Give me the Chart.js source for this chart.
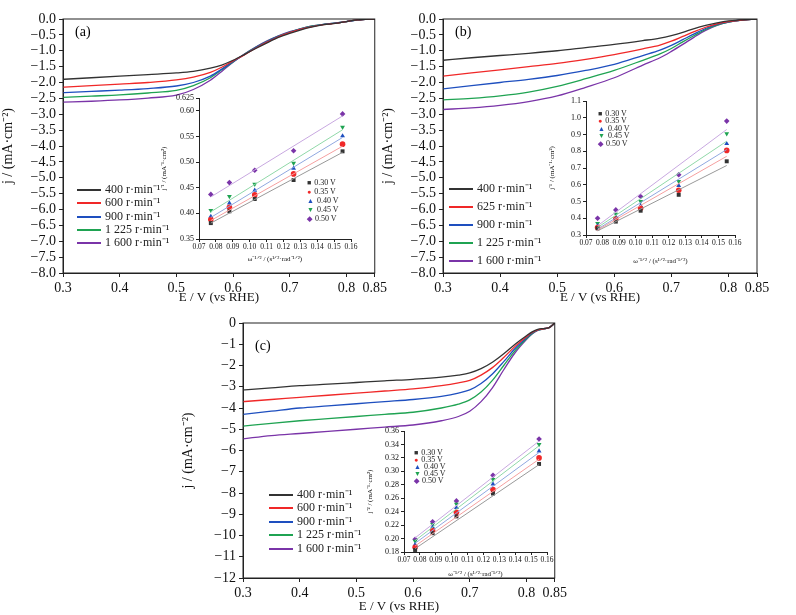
<!DOCTYPE html>
<html><head><meta charset="utf-8">
<script src="https://cdn.jsdelivr.net/npm/chart.js@4"></script>
<style>
body{margin:0;background:#fff;width:796px;height:615px;position:relative;overflow:hidden;font-family:"Liberation Serif",serif}
canvas{position:absolute}
.lg{position:absolute;font-size:12px;color:#222;white-space:nowrap;line-height:12px}
.ln{display:inline-block;width:24px;height:0;vertical-align:middle;margin-right:4px}
.sl{position:absolute;font-size:8px;color:#222;white-space:nowrap;line-height:8px}
.sl b{font-size:7px;margin-right:3px}
.pl{position:absolute;font-size:14px}
</style></head><body>
<canvas id="ca"></canvas><canvas id="cb"></canvas><canvas id="cc"></canvas>
<canvas id="ia"></canvas><canvas id="ib"></canvas><canvas id="ic"></canvas>
<div class="pl" style="left:75px;top:24px">(a)</div>
<div class="pl" style="left:455px;top:24px">(b)</div>
<div class="pl" style="left:255px;top:338px">(c)</div>
<script>
// LSV curves
const Ea = [0.3,0.35,0.4,0.45,0.5,0.53,0.56,0.58,0.6,0.62,0.64,0.66,0.68,0.7,0.72,0.74,0.76,0.78,0.8,0.82,0.84,0.85];
const a400 = [-1.9,-1.85,-1.8,-1.75,-1.7,-1.65,-1.55,-1.45,-1.3,-1.12,-0.93,-0.75,-0.58,-0.45,-0.34,-0.25,-0.18,-0.14,-0.08,-0.03,0,0];
const a600 = [-2.15,-2.1,-2.05,-2.0,-1.92,-1.83,-1.68,-1.52,-1.32,-1.13,-0.92,-0.73,-0.56,-0.43,-0.32,-0.24,-0.18,-0.14,-0.08,-0.03,0,0];
const a900 = [-2.32,-2.28,-2.24,-2.19,-2.11,-2.0,-1.8,-1.58,-1.34,-1.12,-0.9,-0.71,-0.55,-0.42,-0.31,-0.23,-0.17,-0.13,-0.08,-0.03,0,0];
const a1225 = [-2.47,-2.43,-2.39,-2.33,-2.25,-2.1,-1.85,-1.6,-1.35,-1.11,-0.89,-0.7,-0.54,-0.41,-0.3,-0.22,-0.17,-0.13,-0.08,-0.03,0,0];
const a1600 = [-2.62,-2.59,-2.55,-2.49,-2.4,-2.22,-1.93,-1.65,-1.36,-1.1,-0.88,-0.69,-0.53,-0.4,-0.3,-0.22,-0.17,-0.13,-0.08,-0.03,0,0];

const Eb = [0.3,0.35,0.4,0.45,0.5,0.55,0.6,0.65,0.68,0.7,0.72,0.74,0.76,0.78,0.8,0.82,0.85];
const b400 = [-1.3,-1.22,-1.15,-1.08,-1.0,-0.9,-0.8,-0.68,-0.6,-0.52,-0.42,-0.3,-0.2,-0.12,-0.06,-0.03,0];
const b625 = [-1.8,-1.7,-1.6,-1.5,-1.4,-1.27,-1.12,-0.94,-0.82,-0.7,-0.55,-0.4,-0.26,-0.15,-0.08,-0.04,0];
const b900 = [-2.2,-2.1,-2.0,-1.9,-1.78,-1.62,-1.43,-1.15,-0.98,-0.83,-0.65,-0.47,-0.3,-0.17,-0.09,-0.04,0];
const b1225 = [-2.55,-2.5,-2.42,-2.3,-2.12,-1.88,-1.62,-1.3,-1.1,-0.93,-0.72,-0.52,-0.33,-0.19,-0.1,-0.04,0];
const b1600 = [-2.85,-2.8,-2.72,-2.6,-2.42,-2.15,-1.85,-1.45,-1.22,-1.02,-0.8,-0.57,-0.36,-0.2,-0.1,-0.04,0];

const Ec = [0.3,0.35,0.4,0.45,0.5,0.55,0.6,0.65,0.68,0.7,0.72,0.74,0.76,0.78,0.8,0.81,0.82,0.83,0.84,0.85];
const c400 = [-3.15,-3.05,-2.95,-2.88,-2.8,-2.72,-2.65,-2.55,-2.45,-2.35,-2.15,-1.85,-1.45,-1.0,-0.6,-0.42,-0.3,-0.26,-0.22,0];
const c600 = [-3.7,-3.6,-3.5,-3.4,-3.3,-3.2,-3.1,-2.95,-2.82,-2.7,-2.45,-2.1,-1.62,-1.1,-0.65,-0.45,-0.32,-0.27,-0.22,0];
const c900 = [-4.3,-4.15,-4.0,-3.9,-3.8,-3.7,-3.6,-3.45,-3.3,-3.15,-2.85,-2.4,-1.82,-1.2,-0.7,-0.47,-0.33,-0.27,-0.22,0];
const c1225 = [-4.85,-4.72,-4.6,-4.5,-4.4,-4.3,-4.2,-4.0,-3.82,-3.62,-3.25,-2.7,-2.0,-1.3,-0.74,-0.5,-0.34,-0.28,-0.22,0];
const c1600 = [-5.45,-5.3,-5.2,-5.1,-5.0,-4.9,-4.8,-4.6,-4.4,-4.15,-3.7,-3.05,-2.2,-1.4,-0.78,-0.52,-0.35,-0.28,-0.22,0];

const labelsA = ['400 r·min⁻¹','600 r·min⁻¹','900 r·min⁻¹','1 225 r·min⁻¹','1 600 r·min⁻¹'];
const labelsB = ['400 r·min⁻¹','625 r·min⁻¹','900 r·min⁻¹','1 225 r·min⁻¹','1 600 r·min⁻¹'];
const xTicksMain = [0.3,0.4,0.5,0.6,0.7,0.8,0.85];

// Koutecky-Levich insets
const w = [0.077,0.088,0.103,0.126,0.155];
const fitX = [0.077,0.155];
const potentials = ['0.30 V','0.35 V','0.40 V','0.45 V','0.50 V'];
const kA = [[0.381,0.404,0.428,0.465,0.521],[0.388,0.412,0.436,0.477,0.535],[0.394,0.420,0.445,0.488,0.551],[0.406,0.433,0.457,0.498,0.568],[0.437,0.460,0.484,0.522,0.594]];
const fA = [[0.381,0.519],[0.386,0.531],[0.392,0.548],[0.403,0.563],[0.432,0.590]];
const kB = [[0.34,0.38,0.445,0.54,0.74],[0.345,0.395,0.46,0.567,0.805],[0.355,0.405,0.475,0.595,0.845],[0.37,0.425,0.5,0.62,0.905],[0.40,0.45,0.53,0.66,0.98]];
const fB = [[0.325,0.715],[0.33,0.77],[0.335,0.81],[0.345,0.86],[0.355,0.93]];
const kC = [[0.183,0.208,0.233,0.267,0.311],[0.187,0.212,0.239,0.273,0.320],[0.191,0.217,0.246,0.281,0.330],[0.196,0.221,0.251,0.288,0.340],[0.199,0.225,0.256,0.294,0.348]];
const fC = [[0.185,0.31],[0.189,0.318],[0.193,0.328],[0.197,0.338],[0.201,0.345]];
const yTicksIA = [0.35,0.40,0.45,0.50,0.55,0.60,0.625];
const yTicksIB = [0.3,0.4,0.5,0.6,0.7,0.8,0.9,1.0,1.1];
const yTicksIC = [0.18,0.20,0.22,0.24,0.26,0.28,0.30,0.32,0.34,0.36];

const cols = ['#333333','#f02828','#1e4fbf','#1fa352','#7a34a8'];
const fitCols = ['#999','#f5a0a0','#90a8e0','#90d8a8','#c8a8e0'];
const markers = ['rect','circle','triangle','triangle','rectRot'];
const mrot = [0,0,0,180,0];
const mchar = ['■','●','▲','▼','◆'];

const frame = {id:'frame', afterDraw(c){const a=c.chartArea,x=c.ctx;x.save();x.strokeStyle='#222';x.lineWidth=1;x.strokeRect(a.left,a.top,a.right-a.left,a.bottom-a.top);x.restore();}};
const tickFont = s => ({family:'Liberation Serif', size:s});

function place(id, l, t, wd, ht){const c=document.getElementById(id);c.style.left=l+'px';c.style.top=t+'px';c.width=wd;c.height=ht;return c;}

function mainChart(id, l, t, wd, ht, E, series, yMin, yStep, dec, pad, xh){
  const cv = place(id,l,t,wd,ht);
  new Chart(cv, {
    type:'line',
    data:{datasets: series.map((s,i)=>({data:s.map((v,k)=>({x:E[k],y:v})), borderColor:cols[i], borderWidth:1.3, pointRadius:0, cubicInterpolationMode:'monotone', fill:false}))},
    options:{responsive:false, animation:false, layout:{padding:pad},
      plugins:{legend:{display:false}, tooltip:{enabled:false}},
      scales:{
        x:{type:'linear', min:0.3, max:0.85, afterBuildTicks:s=>{s.ticks=xTicksMain.map(v=>({value:v}));}, afterFit:s=>{s.height=xh;},
           grid:{drawOnChartArea:false, tickLength:4, color:'#222'}, border:{color:'#222'},
           ticks:{color:'#111', font:tickFont(14), maxRotation:0, autoSkip:false, callback:v=>String(v)},
           title:{display:true, text:'E / V (vs RHE)', color:'#111', font:{family:'Liberation Serif', size:13}, padding:0}},
        y:{min:yMin, max:0, afterFit:s=>{s.width=63;}, grid:{drawOnChartArea:false, tickLength:4, color:'#222'}, border:{color:'#222'},
           ticks:{color:'#111', font:tickFont(14), stepSize:yStep, autoSkip:false, callback:v=>(v<0?'−':'')+Math.abs(v).toFixed(dec)},
           title:{display:true, text:'j / (mA·cm⁻²)', color:'#111', font:{family:'Liberation Serif', size:14}, padding:0}}
      }},
    plugins:[frame]
  });
}

function inset(id, l, t, wd, ht, pts, fits, yMin, yMax, yTicks, dec, yTitle, yw, pad, xh){
  const cv = place(id,l,t,wd,ht);
  const ds = [];
  fits.forEach((f,i)=>ds.push({data:f.map((v,k)=>({x:fitX[k],y:v})), borderColor:fitCols[i], borderWidth:1, pointRadius:0}));
  pts.forEach((p,i)=>ds.push({data:p.map((v,k)=>({x:w[k],y:v})), showLine:false, pointStyle:markers[i], rotation:mrot[i], pointRadius:2.8, backgroundColor:cols[i], borderColor:cols[i], borderWidth:0}));
  new Chart(cv, {
    type:'line', data:{datasets:ds},
    options:{responsive:false, animation:false, layout:{padding:pad},
      plugins:{legend:{display:false}, tooltip:{enabled:false}},
      scales:{
        x:{type:'linear', min:0.07, max:0.16, afterFit:s=>{s.height=xh;}, grid:{drawOnChartArea:false, tickLength:3, color:'#222'}, border:{color:'#222'},
           ticks:{color:'#111', font:tickFont(7.5), stepSize:0.01, maxRotation:0, autoSkip:false, padding:1, callback:v=>v.toFixed(2)},
           title:{display:true, text:'ω⁻¹ᐟ² / (s¹ᐟ²·rad⁻¹ᐟ²)', color:'#111', font:tickFont(7), padding:{top:2,bottom:0}}},
        y:{min:yMin, max:yMax, afterFit:s=>{s.width=yw;}, afterBuildTicks:s=>{s.ticks=yTicks.map(v=>({value:v}));},
           grid:{drawOnChartArea:false, tickLength:3, color:'#222'}, border:{color:'#222'},
           ticks:{color:'#111', font:tickFont(8), autoSkip:false, padding:2, callback:v=>v===0.625?'0.625':v.toFixed(dec)},
           title:{display:true, text:yTitle, color:'#111', font:tickFont(7), padding:0}}
      }}
  });
}

mainChart('ca', 0, 0, 390, 305, Ea, [a400,a600,a900,a1225,a1600], -8, 0.5, 1, {top:19,right:14,bottom:0,left:0}, 32);
mainChart('cb', 380, 0, 400, 305, Eb, [b400,b625,b900,b1225,b1600], -8, 0.5, 1, {top:19,right:23,bottom:0,left:0}, 32);
mainChart('cc', 180, 305, 390, 310, Ec, [c400,c600,c900,c1225,c1600], -12, 1, 0, {top:18,right:13,bottom:1,left:0}, 36);

inset('ia', 160, 88, 200, 175, kA, fA, 0.35, 0.625, yTicksIA, 2, 'j⁻¹ / (mA⁻¹·cm²)', 39, {top:10,right:9,bottom:0,left:0}, 24);
inset('ib', 548, 92, 200, 173, kB, fB, 0.3, 1.1, yTicksIB, 1, 'j⁻¹ / (mA⁻¹·cm²)', 38, {top:9,right:13,bottom:0,left:0}, 30);
inset('ic', 366, 422, 195, 156, kC, fC, 0.18, 0.36, yTicksIC, 2, 'j⁻² / (mA⁻¹·cm²)', 38, {top:9,right:14,bottom:0,left:0}, 26);

// legends as text
function lineLegend(l, rows, labels){
  rows.forEach((y,i)=>{const d=document.createElement('div');d.className='lg';d.style.left=l+'px';d.style.top=(y-6)+'px';
    d.innerHTML='<span class="ln" style="border-top:2px solid '+cols[i]+'"></span>'+labels[i];document.body.appendChild(d);});
}
function markLegend(l, rows){
  rows.forEach((y,i)=>{const d=document.createElement('div');d.className='sl';d.style.left=l+'px';d.style.top=(y-4)+'px';
    d.innerHTML='<b style="color:'+cols[i]+'">'+mchar[i]+'</b>'+potentials[i];document.body.appendChild(d);});
}
lineLegend(77, [189,202,216,229,242], labelsA);
lineLegend(449, [188,206,224,242,260], labelsB);
lineLegend(269, [494,507,521,534,548], labelsA);
markLegend(307, [183,192,201,210,219]);
markLegend(598, [114,121,129,136,144]);
markLegend(414, [453,460,467,474,481]);
</script>
</body></html>
